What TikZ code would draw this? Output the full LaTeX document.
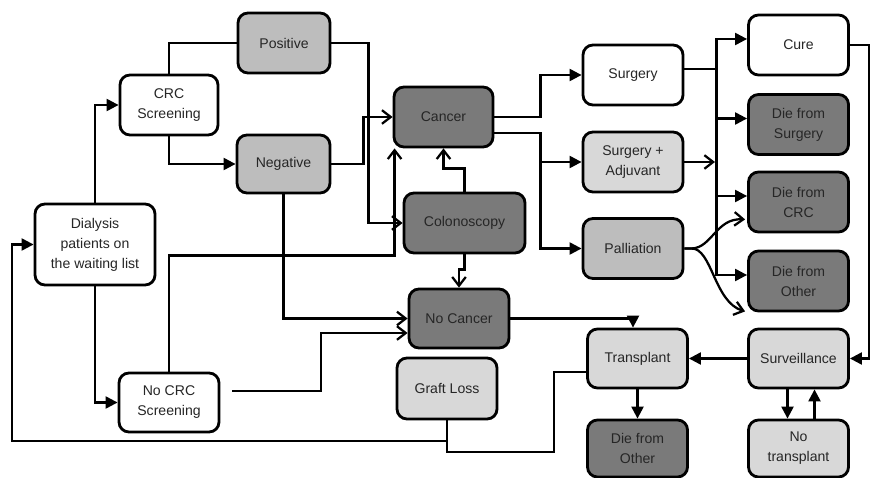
\documentclass[tikz,border=0pt]{standalone}
\usepackage{fontspec}
\setmainfont{Liberation Sans}
\usetikzlibrary{calc,positioning}
\usetikzlibrary{arrows.meta}

\definecolor{boxlight}{HTML}{D8D8D8}
\definecolor{boxmid}{HTML}{BDBDBD}
\definecolor{boxdark}{HTML}{7A7A7A}

\tikzset{
stage/.style={rectangle,draw,rounded corners=0.25cm,line width=2pt,
minimum width=2.5cm,minimum height=1.5cm,align=center,inner sep=1pt,
font=\fontsize{10}{14.2}\selectfont,text=black!85},
wbox/.style={stage,fill=white},
lbox/.style={stage,fill=boxlight},
mbox/.style={stage,fill=boxmid},
dbox/.style={stage,fill=boxdark},
link/.style={line width=1.6pt},
tri/.style={link,-{Triangle[length=3mm,width=3mm]}},
opn/.style={link,-{Straight Barb[length=2.2mm,width=3.4mm]}}
}

\begin{document}
\begin{tikzpicture}[x=0.025cm,y=-0.025cm]
\useasboundingbox (0,0) rectangle (872,478);
% left part
\node[wbox](dial) at (95,244.5) [
minimum width=3cm,
minimum height=2.025cm] {Dialysis\\patients on\\the waiting list};
\node[wbox](crc) at (169,105) [
minimum width=2.45cm] {CRC\\Screening};
\node[wbox](nocrc) at (169,402.5) [
minimum height=1.475cm] {No CRC\\Screening};
\node[mbox](pos) at (284,43) [
minimum width=2.3cm] {Positive};
\node[mbox](neg) at (283.5,164) [
minimum width=2.325cm,
minimum height=1.45cm] {Negative};
% middle part
\node[dbox](cancer) at (443.5,117) [
minimum width=2.475cm] {Cancer};
\node[dbox](colo) at (464.5,223) [
minimum width=3.025cm] {Colonoscopy};
\node[dbox](nocan) at (459,318.5) [
minimum height=1.475cm] {No Cancer};
\node[lbox](graft) at (447,388.5) [
minimum height=1.525cm] {Graft Loss};
% treatment
\node[wbox](surg) at (633,75) {Surgery};
\node[lbox](adj) at (633,162) {Surgery +\\Adjuvant};
\node[mbox](pall) at (633,248.5) {Palliation};
% outcomes
\node[wbox](cure) at (798.5,45) {Cure};
\node[dbox](dsurg) at (798.5,124.5) {Die from\\Surgery};
\node[dbox](dcrc) at (798.5,202) {Die from\\CRC};
\node[dbox](doth) at (798.5,281) {Die from\\Other};
\node[lbox](surv) at (798.5,358.5) [
minimum height=1.475cm] {Surveillance};
\node[lbox](notx) at (798.5,448.5) [
minimum height=1.425cm] {No\\transplant};
\node[lbox](tx) at (637.5,358.5) [
minimum height=1.475cm] {Transplant};
\node[dbox](doth2) at (637.5,448.5) [
minimum height=1.425cm] {Die from\\Other};
\coordinate (ncstart) at (232,391);
\coordinate (adjend) at (715,162);
\coordinate (cureturn) at (869,45);
\coordinate (loopback) at (12,441);
% screening
\draw[tri] (dial.north) |- (crc.west);
\draw[tri] (dial.south) |- (nocrc.west);
\draw[link] (crc.north) |- (pos.west);
\draw[tri] (crc.south) |- (neg.west);
\draw[opn] (pos.east) -- ++(37,0) |- (colo.west);
\draw[opn] (neg.east) -- ++(32,0) |- (cancer.west);
\draw[opn] (neg.south) |- (nocan.west);
\draw[opn] (nocrc.north) -- ++(0,-116) -| ($(cancer.south west)+(2,0)$);
\draw[opn] (ncstart) -- ++(89,0) |- ($(nocan.west)+(0,14.5)$);
\draw[opn] (colo.north) -- ++(0,-23) -| (cancer.south);
\draw[opn] (colo.south) -- ++(0,15) -| (nocan.north);
% treatment
\draw[tri] (cancer.east) -- ++(46,0) |- (surg.west);
\draw[tri] ($(cancer.east)+(0,16)$) -- ++(46,0) |- (adj.west);
\draw[tri] ($(cancer.east)+(0,16)$) -- ++(46,0) |- (pall.west);
\draw[tri] ($(surg.east)+(0,-6)$) -- ++(32,0) |- ($(cure.west)+(0,-6)$);
\draw[tri] ($(surg.east)+(0,-6)$) -- ++(32,0) |- ($(dsurg.west)+(0,-6)$);
\draw[tri] ($(surg.east)+(0,-6)$) -- ++(32,0) |- ($(dcrc.west)+(0,-6)$);
\draw[tri] ($(surg.east)+(0,-6)$) -- ++(32,0) |- ($(doth.west)+(0,-6)$);
\draw[opn] (adj.east) -- (adjend);
\draw[opn] (pall.east) -- ++(7,0) .. controls (712,248) and (716,218) .. ($(dcrc.south west)+(-2,-14)$);
\draw[opn] (pall.east) -- ++(7,0) .. controls (712,248) and (714,302) .. ($(doth.south west)+(-2,-1)$);
% after treatment
\draw[tri] (cure.east) -- (cureturn) |- (surv.east);
\draw[tri] (surv.west) -- (tx.east);
\draw[tri] ($(surv.south)+(-11,0)$) -- ($(notx.north)+(-11,0)$);
\draw[tri] ($(notx.north)+(16,0)$) -- ($(surv.south)+(16,0)$);
\draw[tri] (tx.south) -- (doth2.north);
\draw[tri] (nocan.east) -| ($(tx.north)+(-4.5,0)$);
\draw[link] ($(tx.west)+(0,13.5)$) -- ++(-32,0) -- ++(0,80) -| (graft.south);
\draw[tri] (graft.south) |- (loopback) |- (dial.west);
\end{tikzpicture}
\end{document}
